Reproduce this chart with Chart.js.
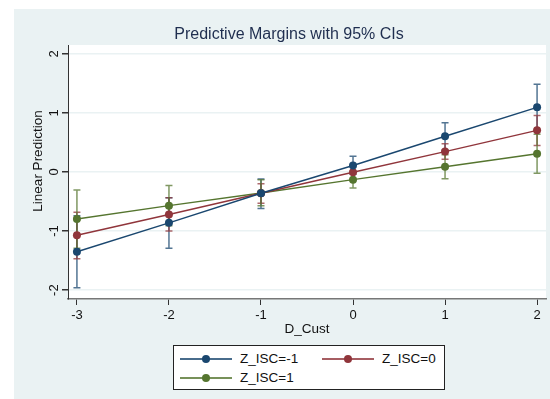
<!DOCTYPE html>
<html>
<head>
<meta charset="utf-8">
<script src="https://cdn.jsdelivr.net/npm/chart.js@4.4.1/dist/chart.umd.min.js"></script>
<style>
  body { margin: 0; background: #fff; font-family: "Liberation Sans", Arial, sans-serif; }
  #wrap { position: absolute; left: 14px; top: 9px; width: 536px; height: 390px; background: #eaf2f3; }
  #legend { position: absolute; left: 173px; top: 345px; width: 270px; height: 43px;
    background: #fff; border: 1px solid #222; font-size: 13.5px; color: #111; }
  .item { position: absolute; height: 16px; line-height: 16px; }
  .sample { position: absolute; top: 7px; width: 52px; height: 2px; }
  .dot { position: absolute; left: 22px; top: -3px; width: 8px; height: 8px; border-radius: 50%; }
  .lbl { position: absolute; white-space: nowrap; }
</style>
</head>
<body>
<div id="wrap"><canvas id="chart" width="536" height="390"></canvas></div>
<div id="legend"></div>
<script>
// values
const dCust = [-3, -2, -1, 0, 1, 2];
const seriesNames = ['Z_ISC=-1', 'Z_ISC=0', 'Z_ISC=1'];
const seriesColors = ['#1a476f', '#90353b', '#55752f'];
const marginNeg1 = [-1.35, -0.86, -0.36, 0.11, 0.605, 1.095];
const lowNeg1 = [-1.96, -1.29, -0.62, -0.04, 0.37, 0.71];
const highNeg1 = [-0.74, -0.435, -0.12, 0.265, 0.835, 1.485];
const margin0 = [-1.07, -0.72, -0.36, -0.005, 0.345, 0.705];
const low0 = [-1.47, -1.0, -0.53, -0.13, 0.215, 0.45];
const high0 = [-0.68, -0.435, -0.2, 0.12, 0.48, 0.955];
const margin1 = [-0.795, -0.57, -0.355, -0.13, 0.09, 0.31];
const low1 = [-1.29, -0.91, -0.57, -0.27, -0.115, -0.02];
const high1 = [-0.305, -0.23, -0.13, 0.01, 0.29, 0.64];
const yTicks = [-2, -1, 0, 1, 2];

const margins = [marginNeg1, margin0, margin1];
const lows = [lowNeg1, low0, low1];
const highs = [highNeg1, high0, high1];

function fade(hex, a) {
  const n = parseInt(hex.slice(1), 16);
  return 'rgba(' + (n >> 16) + ',' + ((n >> 8) & 255) + ',' + (n & 255) + ',' + a + ')';
}

const datasets = margins.map((m, i) => ({
  label: seriesNames[i],
  data: dCust.map((x, j) => ({ x: x, y: m[j] })),
  borderColor: seriesColors[i],
  backgroundColor: seriesColors[i],
  borderWidth: 1.4,
  pointRadius: 4,
  pointBorderWidth: 0,
  showLine: true,
  tension: 0
}));

// white plot region + confidence interval caps
const plotBits = {
  id: 'plotBits',
  beforeDraw(chart) {
    const a = chart.chartArea, ctx = chart.ctx;
    ctx.save();
    ctx.fillStyle = '#fff';
    ctx.fillRect(a.left, a.top, a.right - a.left, a.bottom - a.top);
    ctx.restore();
  },
  beforeDatasetsDraw(chart) {
    const ctx = chart.ctx, xs = chart.scales.x, ys = chart.scales.y;
    ctx.save();
    ctx.lineWidth = 1.5;
    lows.forEach((lo, i) => {
      ctx.strokeStyle = fade(seriesColors[i], 0.75);
      dCust.forEach((x, j) => {
        const px = xs.getPixelForValue(x);
        const p1 = ys.getPixelForValue(lo[j]);
        const p2 = ys.getPixelForValue(highs[i][j]);
        ctx.beginPath();
        ctx.moveTo(px, p1); ctx.lineTo(px, p2);
        ctx.moveTo(px - 3.5, p1); ctx.lineTo(px + 3.5, p1);
        ctx.moveTo(px - 3.5, p2); ctx.lineTo(px + 3.5, p2);
        ctx.stroke();
      });
    });
    ctx.restore();
  },
  afterDraw(chart) {
    const ctx = chart.ctx, a = chart.chartArea;
    ctx.save();
    ctx.fillStyle = '#1f2e4f';
    ctx.font = '16px "Liberation Sans", Arial, sans-serif';
    ctx.textAlign = 'center';
    ctx.textBaseline = 'alphabetic';
    ctx.fillText('Predictive Margins with 95% CIs', 275, 30);
    ctx.fillStyle = '#111';
    ctx.font = '13.5px "Liberation Sans", Arial, sans-serif';
    ctx.translate(24, (a.top + a.bottom) / 2 - 11);
    ctx.rotate(-Math.PI / 2);
    ctx.textBaseline = 'middle';
    ctx.fillText('Linear Prediction', 0, 0);
    ctx.restore();
  }
};

new Chart(document.getElementById('chart'), {
  type: 'scatter',
  data: { datasets: datasets },
  options: {
    responsive: false,
    animation: false,
    devicePixelRatio: 1,
    layout: { padding: { top: 36, left: 0, right: 0, bottom: 55 } },
    plugins: { legend: { display: false }, tooltip: { enabled: false } },
    scales: {
      x: {
        type: 'linear',
        min: -3.097, max: 2.097,
        afterBuildTicks: s => { s.ticks = dCust.map(v => ({ value: v })); },
        afterFit: s => { s.height = 45; },
        grid: { drawOnChartArea: false, tickLength: 6, tickColor: '#333' },
        border: { color: '#777', width: 1.5 },
        ticks: { color: '#111', padding: 3, font: { family: '"Liberation Sans", Arial', size: 13 } },
        title: { display: true, text: 'D_Cust', color: '#111', padding: { top: 0, bottom: 7 },
          font: { family: '"Liberation Sans", Arial', size: 13.5 } }
      },
      y: {
        min: -2.15, max: 2.15,
        afterBuildTicks: s => { s.ticks = yTicks.map(v => ({ value: v })); },
        afterFit: s => { s.width = 54; },
        grid: { color: '#eaf2f3', lineWidth: 1.5, tickLength: 6, tickColor: '#333' },
        border: { color: '#333', width: 1 },
        ticks: { color: '#111', padding: 2, crossAlign: 'center', minRotation: 90, maxRotation: 90,
          font: { family: '"Liberation Sans", Arial', size: 13 } }
      }
    }
  },
  plugins: [plotBits]
});

// legend
const legend = document.getElementById('legend');
const spots = [[6, 148, 5], [148, 208, 5], [6, 148, 24]];
seriesNames.forEach((name, i) => {
  const it = document.createElement('div');
  it.className = 'item';
  it.style.left = spots[i][0] + 'px';
  it.style.top = spots[i][2] + 'px';
  it.innerHTML = '<div class="sample" style="background:' + fade(seriesColors[i], 0.8) + '">' +
    '<div class="dot" style="background:' + seriesColors[i] + '"></div></div>' +
    '<div class="lbl" style="left:60px">' + name + '</div>';
  legend.appendChild(it);
});
</script>
</body>
</html>
